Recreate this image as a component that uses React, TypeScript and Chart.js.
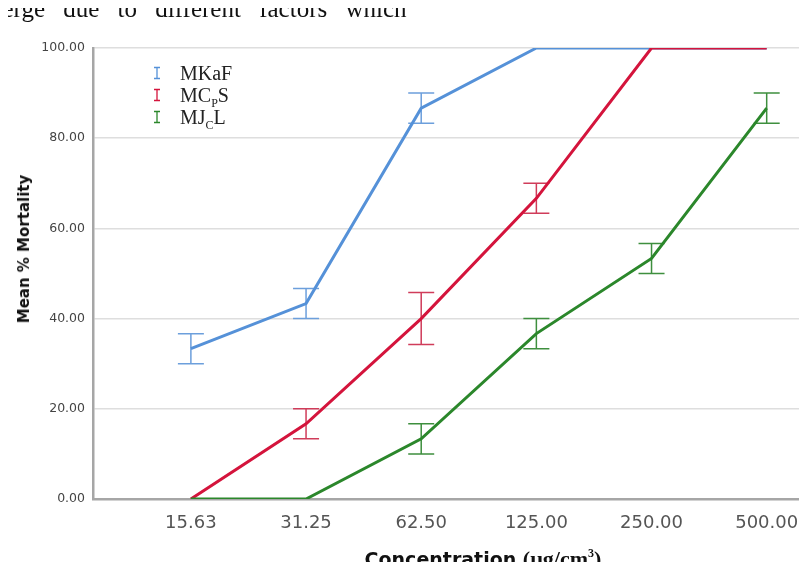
import { useEffect, useRef } from "react";
import { Chart, registerables } from "chart.js";
Chart.register(...registerables);

const concentrations = ["15.63", "31.25", "62.50", "125.00", "250.00", "500.00"];
const mkafMean = [33.33, 43.33, 86.67, 100, 100, 100];
const mkafErr = [3.33, 3.33, 3.33, 0, 0, 0];
const mcpsMean = [0, 16.67, 40, 66.67, 100, 100];
const mcpsErr = [0, 3.33, 5.77, 3.33, 0, 0];
const mjclMean = [0, 0, 13.33, 36.67, 53.33, 86.67];
const mjclErr = [0, 0, 3.33, 3.33, 3.33, 3.33];

const BLUE = "#5591d8";
const RED = "#d4143c";
const GREEN = "#2b872b";

const toPoints = (vals: number[]) => vals.map((v, i) => ({ x: i, y: v }));

// whiskers drawn under the lines, same as the SPSS output
const errorBars = {
    id: "errorBars",
    beforeDatasetsDraw: (chart: any) => {
        const { ctx } = chart;
        const x = chart.scales.x;
        const y = chart.scales.y;
        chart.data.datasets.forEach((ds: any) => {
            ctx.save();
            ctx.strokeStyle = ds.errColor;
            ctx.lineWidth = 1.5;
            ds.err.forEach((e: number, i: number) => {
                if (!e) return;
                const px = x.getPixelForValue(i);
                const top = y.getPixelForValue(ds.data[i].y + e);
                const bot = y.getPixelForValue(ds.data[i].y - e);
                ctx.beginPath();
                ctx.moveTo(px, top);
                ctx.lineTo(px, bot);
                ctx.moveTo(px - 13, top);
                ctx.lineTo(px + 13, top);
                ctx.moveTo(px - 13, bot);
                ctx.lineTo(px + 13, bot);
                ctx.stroke();
            });
            ctx.restore();
        });
    },
};

const BarIcon = ({ color }: { color: string }) => (
    <svg width="10" height="14" style={{ display: "block" }}>
        <path d="M2 1.5H8M5 1.5V12.5M2 12.5H8" stroke={color} strokeWidth="1.3" fill="none" />
    </svg>
);

const subStyle = { fontSize: 12, lineHeight: 0 };

const legendRows = [
    { color: BLUE, label: <>MKaF</> },
    { color: RED, label: <>MC<sub style={subStyle}>P</sub>S</> },
    { color: GREEN, label: <>MJ<sub style={subStyle}>C</sub>L</> },
];

const MortalityChart = () => {
    const canvasRef = useRef<HTMLCanvasElement>(null);

    useEffect(() => {
        if (!canvasRef.current) return;
        const chart = new Chart(canvasRef.current, {
            type: "line",
            data: {
                datasets: [
                    {
                        label: "MKaF",
                        data: toPoints(mkafMean),
                        err: mkafErr,
                        errColor: "#6c9fdc",
                        borderColor: BLUE,
                        order: 2,
                    },
                    {
                        label: "MCpS",
                        data: toPoints(mcpsMean),
                        err: mcpsErr,
                        errColor: "#d03c5a",
                        borderColor: RED,
                        order: 1,
                    },
                    {
                        label: "MJcL",
                        data: toPoints(mjclMean),
                        err: mjclErr,
                        errColor: "#3e8f3e",
                        borderColor: GREEN,
                        order: 0,
                    },
                ] as any,
            },
            options: {
                animation: false,
                responsive: true,
                maintainAspectRatio: false,
                layout: { padding: { top: 48, left: 0, right: 0, bottom: 0 } },
                elements: {
                    line: { borderWidth: 3, tension: 0 },
                    point: { radius: 0, hoverRadius: 0 },
                },
                plugins: {
                    legend: { display: false },
                    tooltip: { enabled: false },
                },
                scales: {
                    x: {
                        type: "linear",
                        min: -0.85,
                        max: 5.35,
                        afterBuildTicks: (s: any) => {
                            s.ticks = concentrations.map((_, i) => ({ value: i }));
                        },
                        afterFit: (s: any) => {
                            s.height = 71;
                            s.paddingLeft = 0;
                            s.paddingRight = 0;
                        },
                        grid: { display: false },
                        border: { color: "#a6a6a6", width: 2.5 },
                        ticks: {
                            padding: 6,
                            color: "#555",
                            font: { family: "DejaVu Sans", size: 18 },
                            maxRotation: 0,
                            callback: (v: any) => concentrations[v] ?? "",
                        },
                    },
                    y: {
                        min: 0,
                        max: 100,
                        afterFit: (s: any) => {
                            s.width = 93;
                            s.paddingTop = 0;
                            s.paddingBottom = 0;
                        },
                        grid: { color: "#dedede", lineWidth: 1.5, drawTicks: false },
                        border: { color: "#a6a6a6", width: 2.5 },
                        ticks: {
                            stepSize: 20,
                            padding: 8,
                            color: "#444",
                            font: { family: "DejaVu Sans", size: 12.5 },
                            callback: (v: any) => Number(v).toFixed(2),
                        },
                    },
                },
            },
            plugins: [errorBars],
        });
        return () => {
            chart.destroy();
        };
    }, []);

    return (
        <div style={{ position: "relative", width: 807, height: 570, margin: -8, overflow: "hidden", background: "#fff" }}>
            <div style={{ position: "absolute", left: 0, top: 0, width: 807, height: 570 }}>
                <canvas ref={canvasRef} />
            </div>
            <div
                style={{
                    position: "absolute",
                    left: -17,
                    top: -4,
                    fontFamily: "Liberation Serif",
                    fontSize: 25,
                    lineHeight: "25px",
                    wordSpacing: 12,
                    whiteSpace: "nowrap",
                    color: "#111",
                }}
            >
                merge due to different factors which
            </div>
            {legendRows.map((r, i) => (
                <div
                    key={i}
                    style={{
                        position: "absolute",
                        left: 152,
                        top: 62 + i * 22,
                        height: 22,
                        display: "flex",
                        alignItems: "center",
                        fontFamily: "Liberation Serif",
                        fontSize: 20,
                        lineHeight: "22px",
                        color: "#222",
                        whiteSpace: "nowrap",
                    }}
                >
                    <BarIcon color={r.color} />
                    <span style={{ marginLeft: 18 }}>{r.label}</span>
                </div>
            ))}
            <div
                style={{
                    position: "absolute",
                    left: 24,
                    top: 249,
                    transform: "translate(-50%, -50%) rotate(-90deg)",
                    fontFamily: "DejaVu Sans",
                    fontWeight: "bold",
                    fontSize: 15,
                    whiteSpace: "nowrap",
                    color: "#111",
                }}
            >
                Mean % Mortality
            </div>
            <div
                style={{
                    position: "absolute",
                    left: 483,
                    top: 559,
                    transform: "translate(-50%, -50%)",
                    fontWeight: "bold",
                    fontSize: 19,
                    lineHeight: "22px",
                    whiteSpace: "nowrap",
                    color: "#111",
                }}
            >
                <span style={{ fontFamily: "DejaVu Sans" }}>Concentration </span>
                <span style={{ fontFamily: "Liberation Serif", fontSize: 22 }}>
                    (µg/cm<sup style={{ fontSize: 12, lineHeight: 0 }}>3</sup>)
                </span>
            </div>
        </div>
    );
};

export default function App() {
    return <MortalityChart />;
}
